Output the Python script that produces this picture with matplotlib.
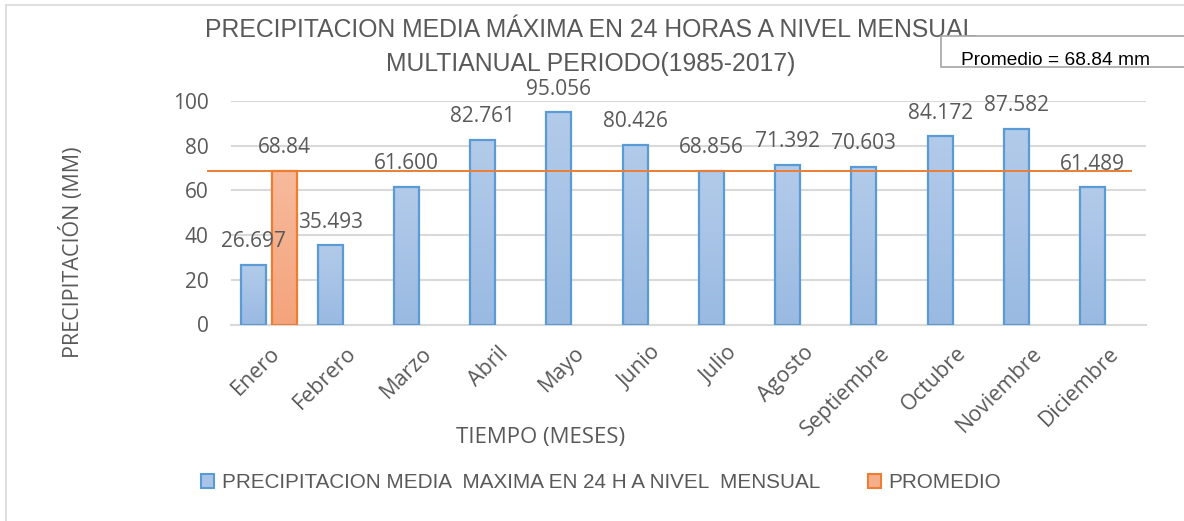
import matplotlib.pyplot as plt
import numpy as np
from matplotlib.colors import LinearSegmentedColormap
from matplotlib.patches import Rectangle

# Data
meses = ['Enero', 'Febrero', 'Marzo', 'Abril', 'Mayo', 'Junio', 'Julio',
         'Agosto', 'Septiembre', 'Octubre', 'Noviembre', 'Diciembre']
precipitacion = [26.697, 35.493, 61.600, 82.761, 95.056, 80.426, 68.856,
                 71.392, 70.603, 84.172, 87.582, 61.489]
promedio_barra = [68.84, 0, 0, 0, 0, 0, 0, 0, 0, 0, 0, 0]
promedio = 68.84
yticks = [0, 20, 40, 60, 80, 100]

plt.rcParams['font.family'] = ['Open Sans', 'DejaVu Sans']
narrow = ['Liberation Sans', 'DejaVu Sans']

grey = '#595959'
blue_edge = '#5B9BD5'
orange_edge = '#ED7D31'
blue_cmap = LinearSegmentedColormap.from_list('b', ['#9ABAE2', '#B3CBEA'])
orange_cmap = LinearSegmentedColormap.from_list('o', ['#F4A47C', '#F7BA9C'])

fig = plt.figure(figsize=(11.84, 5.21), dpi=100)
ax = fig.add_axes([231 / 1184, 1 - 324.5 / 521, 915 / 1184, 223.5 / 521])

x = np.arange(len(meses))
w = 0.33
off = 0.2
grad = np.linspace(0, 1, 100).reshape(-1, 1)


def gradient_bars(xs, vals, cmap, edge, label):
    bars = ax.bar(xs, vals, w, color=cmap(0.5), edgecolor='none', zorder=3,
                  label=label)
    for r in bars:
        im = ax.imshow(grad, cmap=cmap, origin='lower', aspect='auto',
                       extent=[r.get_x(), r.get_x() + r.get_width(), 0, r.get_height()],
                       zorder=3.1)
        im.set_clip_path(r)
    ax.bar(xs, vals, w, fill=False, edgecolor=edge, linewidth=1.6, zorder=3.2)
    return bars


b1 = gradient_bars(x - off, precipitacion, blue_cmap, blue_edge,
                   'PRECIPITACION MEDIA  MAXIMA EN 24 H A NIVEL  MENSUAL')
idx = [i for i, v in enumerate(promedio_barra) if v > 0]
b2 = gradient_bars(x[idx] + off, [promedio_barra[i] for i in idx], orange_cmap,
                   orange_edge, 'PROMEDIO')

# data labels
for xi, v in zip(x - off, precipitacion):
    ax.annotate(f'{v:.3f}', (xi, v), xytext=(0, 9), textcoords='offset points',
                ha='center', va='bottom', fontsize=15, color=grey, zorder=5)
for i in idx:
    ax.annotate(f'{promedio_barra[i]:.2f}', (x[i] + off, promedio_barra[i]),
                xytext=(0, 9), textcoords='offset points', ha='center',
                va='bottom', fontsize=15, color=grey, zorder=5)

# average line
ax.plot([-0.80, 11.30], [promedio, promedio], color=orange_edge, lw=1.4,
        clip_on=False, zorder=4)

ax.set_xlim(-0.5, 11.5)
ax.set_ylim(0, 100)
ax.set_yticks(yticks)
ax.yaxis.grid(True, color='#D9D9D9', lw=1.5, zorder=0)
for s in ['top', 'right', 'left']:
    ax.spines[s].set_visible(False)
ax.spines['bottom'].set_color('#D9D9D9')
ax.spines['bottom'].set_linewidth(1.5)
ax.tick_params(axis='both', length=0, colors=grey, labelsize=15)
ax.tick_params(axis='y', pad=16)
ax.tick_params(axis='x', pad=13)
ax.set_xticks(x)
ax.set_xticklabels(meses, rotation=45, ha='right', rotation_mode='anchor',
                   fontsize=15.5)

fig.text(72 / 1184, 1 - 252 / 521, 'PRECIPITACIÓN (MM)', rotation=90,
         ha='center', va='center', fontsize=15.5, color=grey)
fig.text(541 / 1184, 1 - 437 / 521, 'TIEMPO (MESES)', ha='center',
         va='center', fontsize=16, color=grey)
fig.text(591 / 1184, 1 - 37 / 521,
         'PRECIPITACION MEDIA MÁXIMA EN 24 HORAS A NIVEL MENSUAL',
         ha='center', va='baseline', fontsize=17.8, color=grey, family=narrow,
         zorder=2)
fig.text(591 / 1184, 1 - 71 / 521, 'MULTIANUAL PERIODO(1985-2017)',
         ha='center', va='baseline', fontsize=17.8, color=grey, family=narrow,
         zorder=2)

# text box drawn over the title
fig.add_artist(Rectangle((941 / 1184, 1 - 67 / 521), 0.3, 31 / 521,
                         transform=fig.transFigure, facecolor='white',
                         edgecolor='#A6A6A6', lw=1.2, zorder=6))
fig.text(961 / 1184, 1 - 65 / 521, 'Promedio = 68.84 mm', ha='left',
         va='baseline', fontsize=13.8, color='black', family=narrow, zorder=7)

# chart frame
fig.add_artist(plt.Line2D([6 / 1184, 6 / 1184], [0, 1 - 5 / 521],
                          color='#D9D9D9', lw=1.2))
fig.add_artist(plt.Line2D([6 / 1184, 1.0], [1 - 5 / 521, 1 - 5 / 521],
                          color='#D9D9D9', lw=1.2))

handles = [Rectangle((0, 0), 1, 1, facecolor='#A9C4E8', edgecolor=blue_edge, lw=1.5),
           Rectangle((0, 0), 1, 1, facecolor='#F5AE8A', edgecolor=orange_edge, lw=1.5)]
ax.legend(handles, [b1.get_label(), b2.get_label()], loc='center left',
          bbox_to_anchor=(201 / 1184, 1 - 483 / 521),
          bbox_transform=fig.transFigure, ncol=2, frameon=False,
          prop={'family': narrow, 'size': 14.9}, labelcolor=grey,
          handlelength=0.65, handleheight=0.65, handletextpad=0.35,
          columnspacing=2.3, borderpad=0, borderaxespad=0)

fig.savefig('out.png', dpi=100)
